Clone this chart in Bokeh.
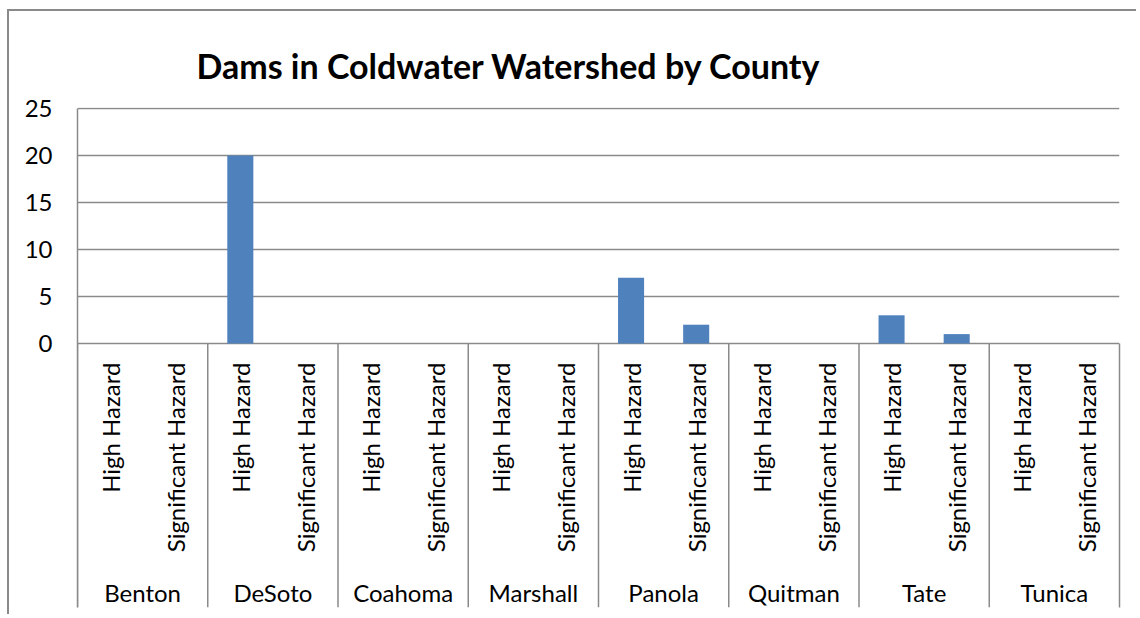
import math

from bokeh.core.properties import value
from bokeh.embed import file_html
from bokeh.models import (ColumnDataSource, FactorRange, FixedTicker,
                          LinearAxis, Range1d)
from bokeh.plotting import figure
from bokeh.resources import INLINE
from bokeh.transform import dodge

# ---- data -------------------------------------------------------------
counties = ["Benton", "DeSoto", "Coahoma", "Marshall",
            "Panola", "Quitman", "Tate", "Tunica"]
hazards = ["High Hazard", "Significant Hazard"]
high_hazard = [0, 20, 0, 0, 7, 0, 3, 0]
significant_hazard = [0, 0, 0, 0, 2, 0, 1, 0]
y_ticks = [0, 5, 10, 15, 20, 25]
title_text = "Dams in Coldwater Watershed by County"

# ---- layout / style (window pixels) -----------------------------------
W, H = 1138, 616
BORDER_X, BORDER_Y, BORDER_W = 7, 9, 2        # chart-area border (top/left)
OX, OY = BORDER_X + BORDER_W, BORDER_Y + BORDER_W   # figure origin
FRAME_LEFT, FRAME_RIGHT = 77, 1119
FRAME_TOP, FRAME_BOTTOM = 107, 607
BASELINE_PX = 343
PX_PER_UNIT = 47 / 5.0
Y_MAX = 25
y_end = Y_MAX + (BASELINE_PX - Y_MAX * PX_PER_UNIT - FRAME_TOP) / PX_PER_UNIT
y_start = -(FRAME_BOTTOM - BASELINE_PX) / PX_PER_UNIT

FONT = "Lato"
LABEL_SIZE = "24px"
GRAY = "#8a8a8a"
BAR_COLOR = "#4F81BD"

factors = [(c, h) for c in counties for h in hazards]
counts = []
for hi, si in zip(high_hazard, significant_hazard):
    counts += [hi, si]

bars = ColumnDataSource(dict(factor=factors, count=counts,
                             hazard=[f[1] for f in factors]))
groups = ColumnDataSource(dict(county=counties))

x_range = FactorRange(*factors, factor_padding=0, subgroup_padding=0,
                      group_padding=0, range_padding=0)

fig_w, fig_h = W - OX, H - OY
p = figure(width=fig_w, height=fig_h, x_range=x_range,
           y_range=Range1d(y_start, y_end),
           x_axis_location=None, y_axis_location="left",
           toolbar_location=None, output_backend="svg",
           min_border_left=FRAME_LEFT - OX, min_border_right=W - FRAME_RIGHT,
           min_border_top=FRAME_TOP - OY, min_border_bottom=H - FRAME_BOTTOM,
           background_fill_color="white", border_fill_color="white",
           outline_line_color=None)

# chart-area border: top and left edges of the host element
p.styles = {
    "margin-left": f"{BORDER_X}px",
    "margin-top": f"{BORDER_Y}px",
    "border-left": f"{BORDER_W}px solid {GRAY}",
    "border-top": f"{BORDER_W}px solid {GRAY}",
    "overflow": "hidden",
}

# title
p.title.text = title_text
p.title.align = "left"
p.title.offset = 119
p.title.standoff = 44
p.title.text_font = FONT
p.title.text_font_style = "bold"
p.title.text_font_size = "34px"
p.title.text_color = "black"

# value axis (its line also forms the left edge of the category area)
yax = p.yaxis[0]
yax.ticker = FixedTicker(ticks=y_ticks)
yax.bounds = (y_start, Y_MAX)
yax.major_tick_out = 0
yax.major_tick_in = 0
yax.minor_tick_out = 0
yax.minor_tick_in = 0
yax.axis_line_color = GRAY
yax.axis_line_width = 1.5
yax.major_label_standoff = 25
yax.major_label_text_font = FONT
yax.major_label_text_font_size = LABEL_SIZE
yax.major_label_text_color = "black"

# right edge of the category area
rax = LinearAxis(bounds=(y_start, 0), ticker=FixedTicker(ticks=[]),
                 major_tick_out=0, major_tick_in=0, minor_tick_out=0,
                 minor_tick_in=0, axis_line_color=GRAY, axis_line_width=1.5,
                 major_label_text_alpha=0)
p.add_layout(rax, "right")

for g in p.ygrid:
    g.ticker = FixedTicker(ticks=y_ticks)
    g.grid_line_color = GRAY
    g.grid_line_width = 1.5
for g in p.xgrid:
    g.visible = False

# bars
p.vbar(x="factor", top="count", width=0.4, source=bars,
       fill_color=BAR_COLOR, line_color=None)

# separators between counties
sep_x = dodge("county", -1.0, range=p.x_range)
p.segment(x0=sep_x, x1=sep_x, y0=0, y1=y_start, source=groups,
          line_color=GRAY, line_width=1.5)

# hazard labels (rotated) and county labels
p.text(x="factor", y=0, text="hazard", source=bars, angle=math.pi / 2,
       text_align="right", text_baseline="middle", y_offset=19,
       text_font=value(FONT), text_font_size=LABEL_SIZE, text_color="black")
p.text(x="county", y=0, text="county", source=groups,
       text_align="center", text_baseline="middle", y_offset=249,
       text_font=value(FONT), text_font_size=LABEL_SIZE, text_color="black")

open("out.html", "w").write(file_html(p, INLINE))
